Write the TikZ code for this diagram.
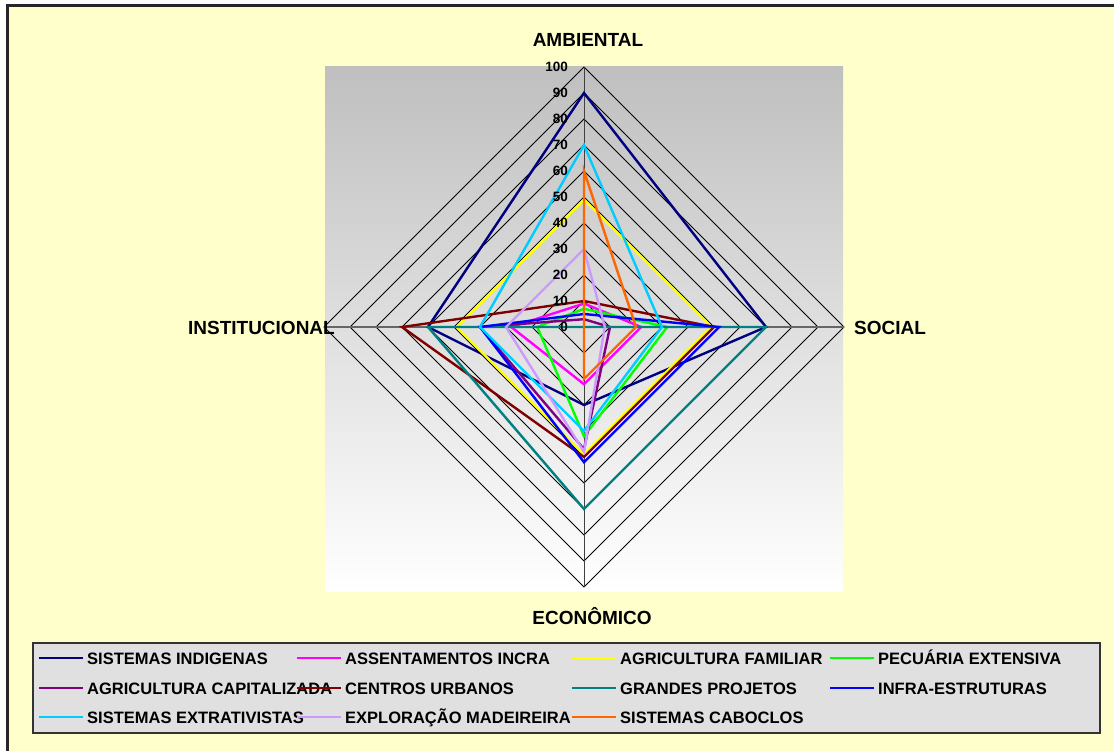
\documentclass[tikz,border=0pt]{standalone}
\usepackage{fontspec}
\setmainfont{Liberation Sans}
\usepackage{tikz}

% colours of the sheet and of the series
\definecolor{fundo}{HTML}{FFFFCC}
\definecolor{indigena}{HTML}{000080}
\definecolor{incra}{HTML}{FF00FF}
\definecolor{familiar}{HTML}{FFFF00}
\definecolor{pecuaria}{HTML}{00FF00}
\definecolor{capitalizada}{HTML}{800080}
\definecolor{urbanos}{HTML}{800000}
\definecolor{projetos}{HTML}{008080}
\definecolor{infra}{HTML}{0000FF}
\definecolor{extrativista}{HTML}{00CCFF}
\definecolor{madeireira}{HTML}{CC99FF}
\definecolor{caboclo}{HTML}{FF6600}

% one series of the radar: ambiental, social, economico, institucional
\newcommand{\radar}[5]{\draw[serie,#1] (0,#2*\u) -- (#3*\u,0) -- (0,-#4*\u) -- (-#5*\u,0) -- cycle;}

\begin{document}
\begin{tikzpicture}[x=1pt,y=-1pt,
  rotulo/.style={font=\bfseries\fontsize{19}{21}\selectfont, inner sep=0pt},
  escala/.style={font=\bfseries\fontsize{13.5}{14}\selectfont, anchor=east, inner sep=0pt},
  legenda/.style={font=\bfseries\fontsize{16.5}{18}\selectfont, anchor=base west, inner sep=0pt},
  serie/.style={line width=2.4pt}]

% sheet and frame
\useasboundingbox (0,0) rectangle (1114,751);
\fill[white] (0,0) rectangle (1114,751);
\fill[fundo] (7,5) rectangle (1114,751);
\draw[line width=2.5pt, black!85] (7.5,751) -- (7.5,5.5) -- (1114,5.5);

% plot area with gradient
\shade[top color=black!25, bottom color=white] (325,67) rectangle (843,591);

% centre of the radar and size of one unit
\def\cx{584}
\def\cy{327}
\def\u{2.6}

\begin{scope}[shift={(\cx,\cy)}, yscale=-1]
% rings every 10
\foreach \k in {1,...,10}
  \draw[black, line width=0.8pt] (0,\k*26) -- (\k*26,0) -- (0,-\k*26) -- (-\k*26,0) -- cycle;

% axes
\draw[black!75, line width=1pt] (0,260) -- (0,-260);
\draw[black!60, line width=1.5pt] (-260,0) -- (260,0);

% series
\radar{indigena}{90}{70}{30}{60}
\radar{incra}{9}{22}{22}{28}
\radar{familiar}{49}{49}{49}{49}
\radar{pecuaria}{7}{32}{42}{18}
\radar{capitalizada}{3}{10}{47}{40}
\radar{urbanos}{10}{50}{50}{70}
\radar{projetos}{0}{70}{70}{60}
\radar{infra}{5}{52}{52}{40}
\radar{extrativista}{70}{30}{40}{40}
\radar{madeireira}{30}{8}{48}{30}
\radar{caboclo}{60}{20}{20}{0}

% scale numbers
\foreach \k [evaluate=\k as \v using int(10*\k)] in {0,...,10}
  \node[escala] (n\k) at (-16,\k*26) {\v};
\end{scope}

% axis names
\node[rotulo] (amb) at (588,40) {AMBIENTAL};
\node[rotulo, anchor=west] (soc) at (854,328) {SOCIAL};
\node[rotulo, anchor=base] (eco) at (592,624) {ECONÔMICO};
\node[rotulo, anchor=east] (inst) at (335,328) {INSTITUCIONAL};

% legend
\draw[fill=black!12, draw=black!80, line width=1.2pt] (33,643) rectangle (1100,733);
\foreach \cor/\nome/\px/\py in {
  indigena/SISTEMAS INDIGENAS/39/658, incra/ASSENTAMENTOS INCRA/297/658,
  familiar/AGRICULTURA FAMILIAR/572/658, pecuaria/PECUÁRIA EXTENSIVA/830/658,
  capitalizada/AGRICULTURA CAPITALIZADA/39/688, urbanos/CENTROS URBANOS/297/688,
  projetos/GRANDES PROJETOS/572/688, infra/INFRA-ESTRUTURAS/830/688,
  extrativista/SISTEMAS EXTRATIVISTAS/39/717, madeireira/EXPLORAÇÃO MADEIREIRA/297/717,
  caboclo/SISTEMAS CABOCLOS/572/717}
{
  \node[legenda] (leg-\cor) at (\px+48,\py+6) {\nome};
  \draw[line width=2.4pt, \cor] (\px,\py) -- ++(44,0);
}

\end{tikzpicture}
\end{document}
